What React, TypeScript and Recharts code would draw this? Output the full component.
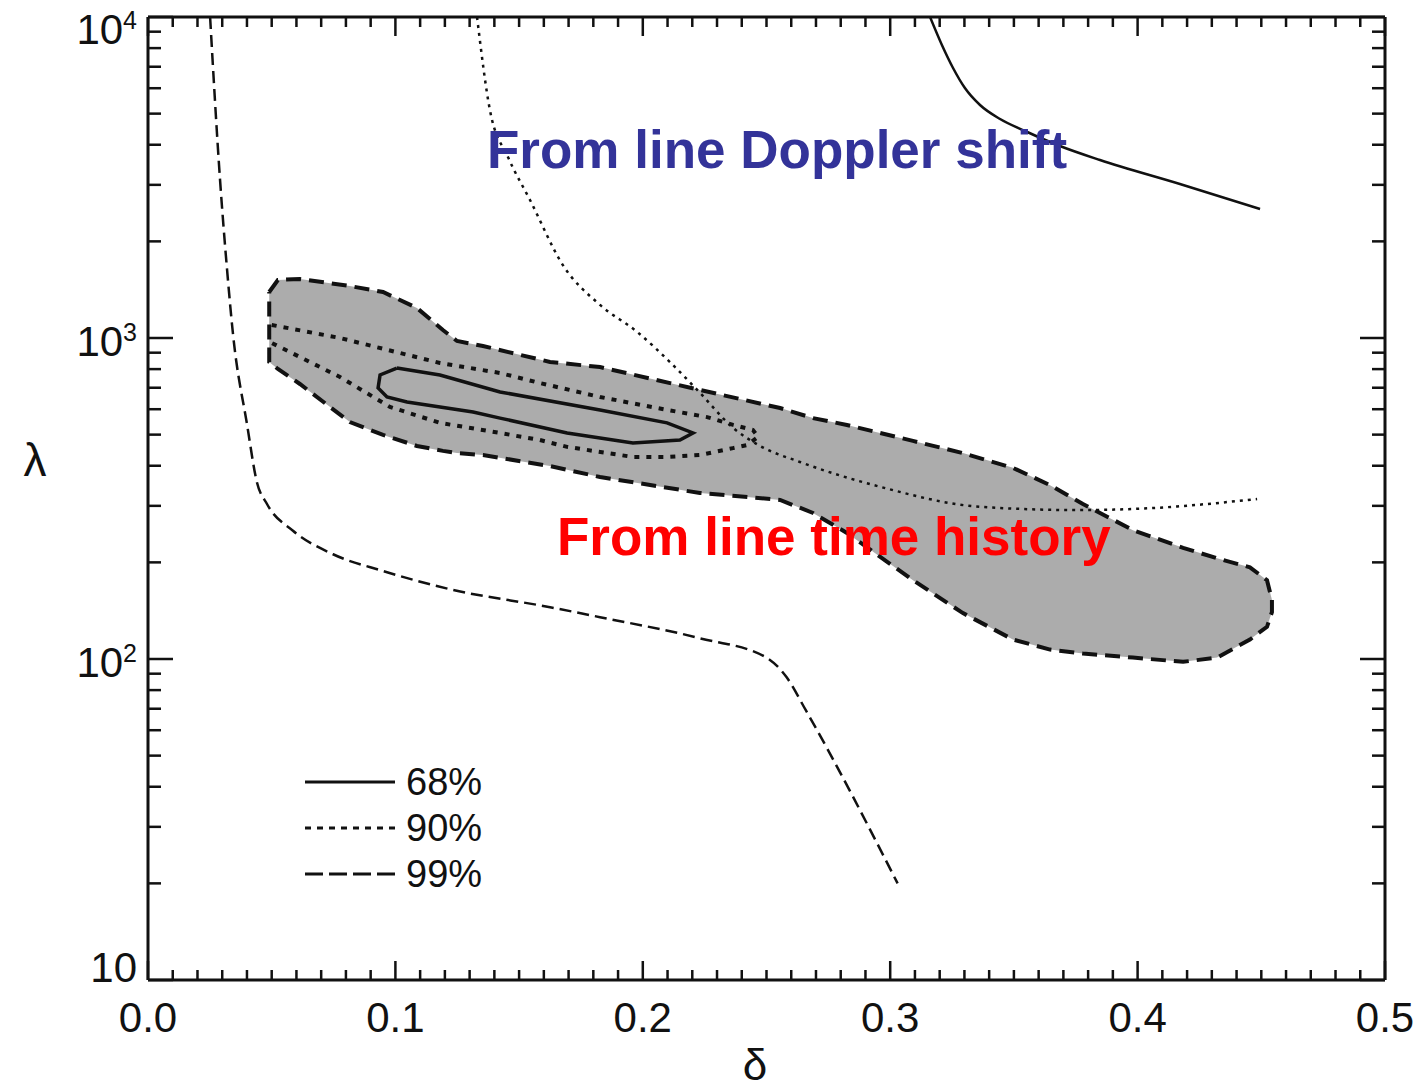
import React from 'react';
import { ComposedChart, Line, Area, XAxis, YAxis } from 'recharts';

// ---------- data (delta, lambda) ----------
// "From line Doppler shift" constraints (open curves)
const doppler68 = [
  { delta: 0.3161, lambda: 10000 }, { delta: 0.3209, lambda: 8181 }, { delta: 0.3254, lambda: 6937 },
  { delta: 0.3302, lambda: 6008 }, { delta: 0.3363, lambda: 5320 }, { delta: 0.3444, lambda: 4811 },
  { delta: 0.3545, lambda: 4414 }, { delta: 0.3686, lambda: 3964 }, { delta: 0.3848, lambda: 3585 },
  { delta: 0.4171, lambda: 3018 }, { delta: 0.4495, lambda: 2523 },
];
const doppler90 = [
  { delta: 0.133, lambda: 10000 }, { delta: 0.1382, lambda: 5130 }, { delta: 0.1455, lambda: 3664 },
  { delta: 0.1544, lambda: 2692 }, { delta: 0.1677, lambda: 1687 }, { delta: 0.1827, lambda: 1268 },
  { delta: 0.1977, lambda: 1045 }, { delta: 0.211, lambda: 841 }, { delta: 0.2231, lambda: 675 },
  { delta: 0.2365, lambda: 525 }, { delta: 0.2474, lambda: 461 }, { delta: 0.2635, lambda: 411 },
  { delta: 0.2959, lambda: 344 }, { delta: 0.3363, lambda: 298 }, { delta: 0.3767, lambda: 291 },
  { delta: 0.405, lambda: 295 }, { delta: 0.4483, lambda: 315 },
];
const doppler99 = [
  { delta: 0.0251, lambda: 10000 }, { delta: 0.0291, lambda: 3126 }, { delta: 0.0319, lambda: 1652 },
  { delta: 0.0344, lambda: 1021 }, { delta: 0.04, lambda: 540 }, { delta: 0.044, lambda: 356 },
  { delta: 0.0481, lambda: 304 }, { delta: 0.0586, lambda: 251 }, { delta: 0.0748, lambda: 212 },
  { delta: 0.095, lambda: 188 }, { delta: 0.122, lambda: 165 }, { delta: 0.1625, lambda: 145 },
  { delta: 0.1827, lambda: 135 }, { delta: 0.2231, lambda: 116 }, { delta: 0.25, lambda: 101 },
  { delta: 0.258, lambda: 88 }, { delta: 0.266, lambda: 69 }, { delta: 0.303, lambda: 20 },
];

// "From line time history" contours
const history68 = [
  { delta: 0.1006, lambda: 806 }, { delta: 0.118, lambda: 767 }, { delta: 0.1423, lambda: 679 },
  { delta: 0.1827, lambda: 597 }, { delta: 0.2098, lambda: 544 }, { delta: 0.2203, lambda: 506 },
  { delta: 0.215, lambda: 481 }, { delta: 0.196, lambda: 471 }, { delta: 0.1694, lambda: 506 },
  { delta: 0.1423, lambda: 563 }, { delta: 0.1314, lambda: 588 }, { delta: 0.1047, lambda: 632 },
  { delta: 0.0966, lambda: 655 }, { delta: 0.093, lambda: 699 }, { delta: 0.0938, lambda: 767 },
  { delta: 0.1006, lambda: 806 },
];
const history90 = [
  { delta: 0.05, lambda: 1098 }, { delta: 0.0776, lambda: 1000 }, { delta: 0.118, lambda: 836 },
  { delta: 0.1423, lambda: 778 }, { delta: 0.1584, lambda: 724 }, { delta: 0.1827, lambda: 655 },
  { delta: 0.2098, lambda: 597 }, { delta: 0.226, lambda: 567 }, { delta: 0.2365, lambda: 536 },
  { delta: 0.2445, lambda: 517 }, { delta: 0.2466, lambda: 492 }, { delta: 0.2421, lambda: 464 },
  { delta: 0.2365, lambda: 454 }, { delta: 0.2231, lambda: 432 }, { delta: 0.2098, lambda: 426 },
  { delta: 0.196, lambda: 426 }, { delta: 0.1694, lambda: 458 }, { delta: 0.1584, lambda: 481 },
  { delta: 0.1423, lambda: 506 }, { delta: 0.118, lambda: 544 }, { delta: 0.0978, lambda: 610 },
  { delta: 0.0776, lambda: 756 }, { delta: 0.05, lambda: 965 },
];
const history99Delta = [
  0.049, 0.0525, 0.0614, 0.0816, 0.095, 0.1087, 0.1192, 0.1249, 0.1354, 0.1625, 0.1827, 0.2231, 0.2555,
  0.2688, 0.2825, 0.3092, 0.3294, 0.3496, 0.3646, 0.3779, 0.3981, 0.4184, 0.4321, 0.4454, 0.4523, 0.4543,
];
const history99Upper = [
  1391, 1516, 1527, 1452, 1391, 1240, 1059, 979, 944, 842, 812, 689, 605,
  563, 536, 478, 438, 394, 348, 304, 252, 222, 206, 193, 176, 153,
];
const history99Lower = [
  842, 801, 719, 547, 499, 461, 445, 438, 432, 399, 369, 329, 313,
  285, 247, 176, 139, 115, 107, 104, 101, 98, 101, 115, 126, 140,
];

// ticks
const xMajorTicks = [0, 0.1, 0.2, 0.3, 0.4, 0.5];
const xTickLabels = ['0.0', '0.1', '0.2', '0.3', '0.4', '0.5'];
const xAllTicks = Array.from({ length: 51 }, (_, i) => i / 100);
const yMajorTicks = [10, 100, 1000, 10000];
const yTickExponents = ['1', '2', '3', '4'];
const yAllTicks = [
  10, 20, 30, 40, 50, 60, 70, 80, 90,
  100, 200, 300, 400, 500, 600, 700, 800, 900,
  1000, 2000, 3000, 4000, 5000, 6000, 7000, 8000, 9000, 10000,
];
const legendLabels = ['68%', '90%', '99%'];

// ---------- derived tables ----------
const areaRows = history99Delta.map((d, i) => ({ delta: d, range: [history99Lower[i], history99Upper[i]] }));
const history99Outline = [
  ...history99Delta.map((d, i) => ({ delta: d, lambda: history99Upper[i] })),
  ...history99Delta.map((d, i) => ({ delta: d, lambda: history99Lower[i] })).reverse(),
  { delta: history99Delta[0], lambda: history99Upper[0] },
];

const FONT = '"Liberation Sans", Arial, Helvetica, sans-serif';
const INK = '#111';

const majorXIndex = (v: number) => xMajorTicks.findIndex((m) => Math.abs(m - v) < 1e-6);
const majorYIndex = (v: number) => yMajorTicks.findIndex((m) => Math.abs(m - v) < 1e-6);

const XTickBottom = (props: any) => {
  const { x, y, payload } = props;
  const idx = majorXIndex(payload.value);
  const len = idx >= 0 ? 19 : 10;
  return (
    <g>
      <line x1={x} x2={x} y1={y} y2={y - len} stroke={INK} strokeWidth={2.5} />
      {idx >= 0 && (
        <text x={x} y={y + 52} textAnchor="middle" fontSize={42} fontFamily={FONT} fill={INK}>
          {xTickLabels[idx]}
        </text>
      )}
    </g>
  );
};

const XTickTop = (props: any) => {
  const { x, y, payload } = props;
  const idx = majorXIndex(payload.value);
  const len = idx >= 0 ? 19 : 10;
  return <line x1={x} x2={x} y1={y} y2={y + len} stroke={INK} strokeWidth={2.5} />;
};

const YTickLeft = (props: any) => {
  const { x, y, payload } = props;
  const idx = majorYIndex(payload.value);
  const len = idx >= 0 ? 25 : 13;
  const shift = idx === 0 ? 2 : idx === 3 ? 27 : 18;
  return (
    <g>
      <line x1={x} x2={x + len} y1={y} y2={y} stroke={INK} strokeWidth={2.5} />
      {idx >= 0 && (
        <text x={x - 11} y={y + shift} textAnchor="end" fontSize={42} fontFamily={FONT} fill={INK}>
          10
          {idx > 0 && (
            <tspan dy={-15} fontSize={25}>
              {yTickExponents[idx]}
            </tspan>
          )}
        </text>
      )}
    </g>
  );
};

const YTickRight = (props: any) => {
  const { x, y, payload } = props;
  const idx = majorYIndex(payload.value);
  const len = idx >= 0 ? 25 : 13;
  return <line x1={x} x2={x - len} y1={y} y2={y} stroke={INK} strokeWidth={2.5} />;
};

const W = 1416;
const H = 1083;

export default function App() {
  return (
    <div style={{ position: 'relative', width: W, height: H }}>
      <style>{'html,body{overflow:hidden} .recharts-surface{overflow:visible}'}</style>
      <ComposedChart
        width={W}
        height={H}
        data={areaRows}
        margin={{ top: 8, right: 38, bottom: 110, left: 139 }}
      >
        <XAxis
          dataKey="delta"
          type="number"
          domain={[0, 0.5]}
          allowDataOverflow
          ticks={xAllTicks}
          interval={0}
          height={1}
          tickSize={0}
          tickMargin={0}
          tickLine={false}
          tick={<XTickBottom />}
          axisLine={{ stroke: INK, strokeWidth: 3 }}
        />
        <XAxis
          xAxisId="top"
          orientation="top"
          dataKey="delta"
          type="number"
          domain={[0, 0.5]}
          allowDataOverflow
          ticks={xAllTicks}
          interval={0}
          height={1}
          tickSize={0}
          tickMargin={0}
          tickLine={false}
          tick={<XTickTop />}
          axisLine={{ stroke: INK, strokeWidth: 3 }}
        />
        <YAxis
          type="number"
          scale="log"
          domain={[10, 10000]}
          allowDataOverflow
          ticks={yAllTicks}
          interval={0}
          width={1}
          tickSize={0}
          tickMargin={0}
          tickLine={false}
          tick={<YTickLeft />}
          axisLine={{ stroke: INK, strokeWidth: 3 }}
        />
        <YAxis
          yAxisId="right"
          orientation="right"
          type="number"
          scale="log"
          domain={[10, 10000]}
          allowDataOverflow
          ticks={yAllTicks}
          interval={0}
          width={1}
          tickSize={0}
          tickMargin={0}
          tickLine={false}
          tick={<YTickRight />}
          axisLine={{ stroke: INK, strokeWidth: 3 }}
        />
        <Area
          dataKey="range"
          type="linear"
          fill="#acacac"
          fillOpacity={1}
          stroke="none"
          isAnimationActive={false}
          dot={false}
          activeDot={false}
        />
        <Line data={history99Outline} dataKey="lambda" type="linear" stroke={INK} strokeWidth={4}
          strokeDasharray="15 8" dot={false} activeDot={false} isAnimationActive={false} />
        <Line data={history90} dataKey="lambda" type="linear" stroke={INK} strokeWidth={4}
          strokeDasharray="5 7" dot={false} activeDot={false} isAnimationActive={false} />
        <Line data={history68} dataKey="lambda" type="linear" stroke={INK} strokeWidth={3.5}
          dot={false} activeDot={false} isAnimationActive={false} />
        <Line data={doppler99} dataKey="lambda" type="monotone" stroke={INK} strokeWidth={2.5}
          strokeDasharray="12 6" dot={false} activeDot={false} isAnimationActive={false} />
        <Line data={doppler90} dataKey="lambda" type="monotone" stroke={INK} strokeWidth={2.5}
          strokeDasharray="3 5" dot={false} activeDot={false} isAnimationActive={false} />
        <Line data={doppler68} dataKey="lambda" type="monotone" stroke={INK} strokeWidth={2.5}
          dot={false} activeDot={false} isAnimationActive={false} />
      </ComposedChart>
      <svg
        width={W}
        height={H}
        style={{ position: 'absolute', left: 0, top: 0, pointerEvents: 'none', overflow: 'visible' }}
      >
        <text x={479} y={160} fontSize={53} fontWeight="bold" fontFamily={FONT} fill="#333399">
          From line Doppler shift
        </text>
        <text x={549} y={547} fontSize={53} fontWeight="bold" fontFamily={FONT} fill="#ff0000">
          From line time history
        </text>
        <line x1={297} x2={387} y1={774} y2={774} stroke={INK} strokeWidth={3} />
        <line x1={297} x2={387} y1={820} y2={820} stroke={INK} strokeWidth={3} strokeDasharray="6 6" />
        <line x1={297} x2={387} y1={866} y2={866} stroke={INK} strokeWidth={3} strokeDasharray="18 6" />
        {legendLabels.map((l, i) => (
          <text key={l} x={398} y={787 + i * 46} fontSize={38} fontFamily={FONT} fill={INK}>
            {l}
          </text>
        ))}
        <text x={747} y={1072} textAnchor="middle" fontSize={44} fontFamily={FONT} fill={INK}>
          δ
        </text>
        <text x={27} y={468} textAnchor="middle" fontSize={46} fontFamily={FONT} fill={INK}>
          λ
        </text>
      </svg>
    </div>
  );
}
